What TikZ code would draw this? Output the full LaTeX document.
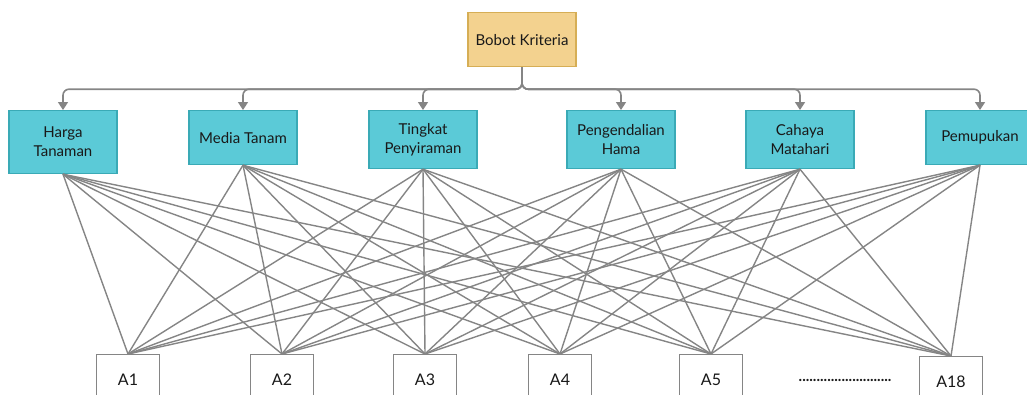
\documentclass[tikz,border=0pt]{standalone}
\usepackage{fontspec}
\setmainfont{Lato}
\usetikzlibrary{arrows.meta}
\definecolor{bobotfill}{HTML}{F3D28F}
\definecolor{bobotline}{HTML}{D6AE55}
\definecolor{kritfill}{HTML}{5BCAD7}
\definecolor{kritline}{HTML}{3AAAB6}
\definecolor{garis}{HTML}{858585}
\begin{document}
\begin{tikzpicture}[
    x=1pt, y=-1pt,
    every node/.style={font=\fontsize{15}{19}\selectfont, align=center, inner sep=2pt, text=black!90},
    bobot/.style={draw=bobotline, fill=bobotfill, line width=1.2pt, minimum width=108pt, minimum height=54pt, anchor=north},
    kriteria/.style={draw=kritline, fill=kritfill, line width=1.2pt, minimum width=108pt, anchor=north},
    alternatif/.style={draw=garis, fill=white, line width=1.2pt, minimum width=63pt, minimum height=50pt, anchor=north, font=\fontsize{16}{19}\selectfont},
    bus/.style={draw=garis, line width=1.6pt, rounded corners=6pt, -{Triangle[width=10pt,length=8pt]}},
    relasi/.style={draw=garis, line width=1.4pt},
]
\useasboundingbox (0,0) rectangle (1027,394);
% bobot dan kriteria
\node[bobot] (bobot) at (522,12) {Bobot Kriteria};
\node[kriteria, minimum height=63pt] (harga) at (63,110) {Harga\\Tanaman};
\node[kriteria, minimum height=54pt] (media) at (243,110) {Media Tanam};
\node[kriteria, minimum height=58pt] (tingkat) at (423,110) {Tingkat\\Penyiraman};
\node[kriteria, minimum height=58pt] (hama) at (621,110) {Pengendalian\\Hama};
\node[kriteria, minimum height=58pt] (cahaya) at (800,110) {Cahaya\\Matahari};
\node[kriteria, minimum height=54pt] (pupuk) at (980,110) {Pemupukan};
% alternatif
\node[alternatif] (a1) at (128,354) {A1};
\node[alternatif] (a2) at (282,354) {A2};
\node[alternatif] (a3) at (425,354) {A3};
\node[alternatif] (a4) at (560,354) {A4};
\node[alternatif] (a5) at (711,354) {A5};
\node[alternatif] (a18) at (951,356) {A18};
\node (titik) at (845,380) {\textbf{..........................}};
% hubungan
\foreach \k in {harga,media,tingkat,hama,cahaya,pupuk}
    \draw[bus] (bobot.south) -- ++(0,22) -| (\k.north);
\foreach \k in {harga,media,tingkat,hama,cahaya,pupuk}
    \foreach \a in {a1,a2,a3,a4,a5,a18}
        \draw[relasi] (\k.south) -- (\a.north);
\end{tikzpicture}
\end{document}
